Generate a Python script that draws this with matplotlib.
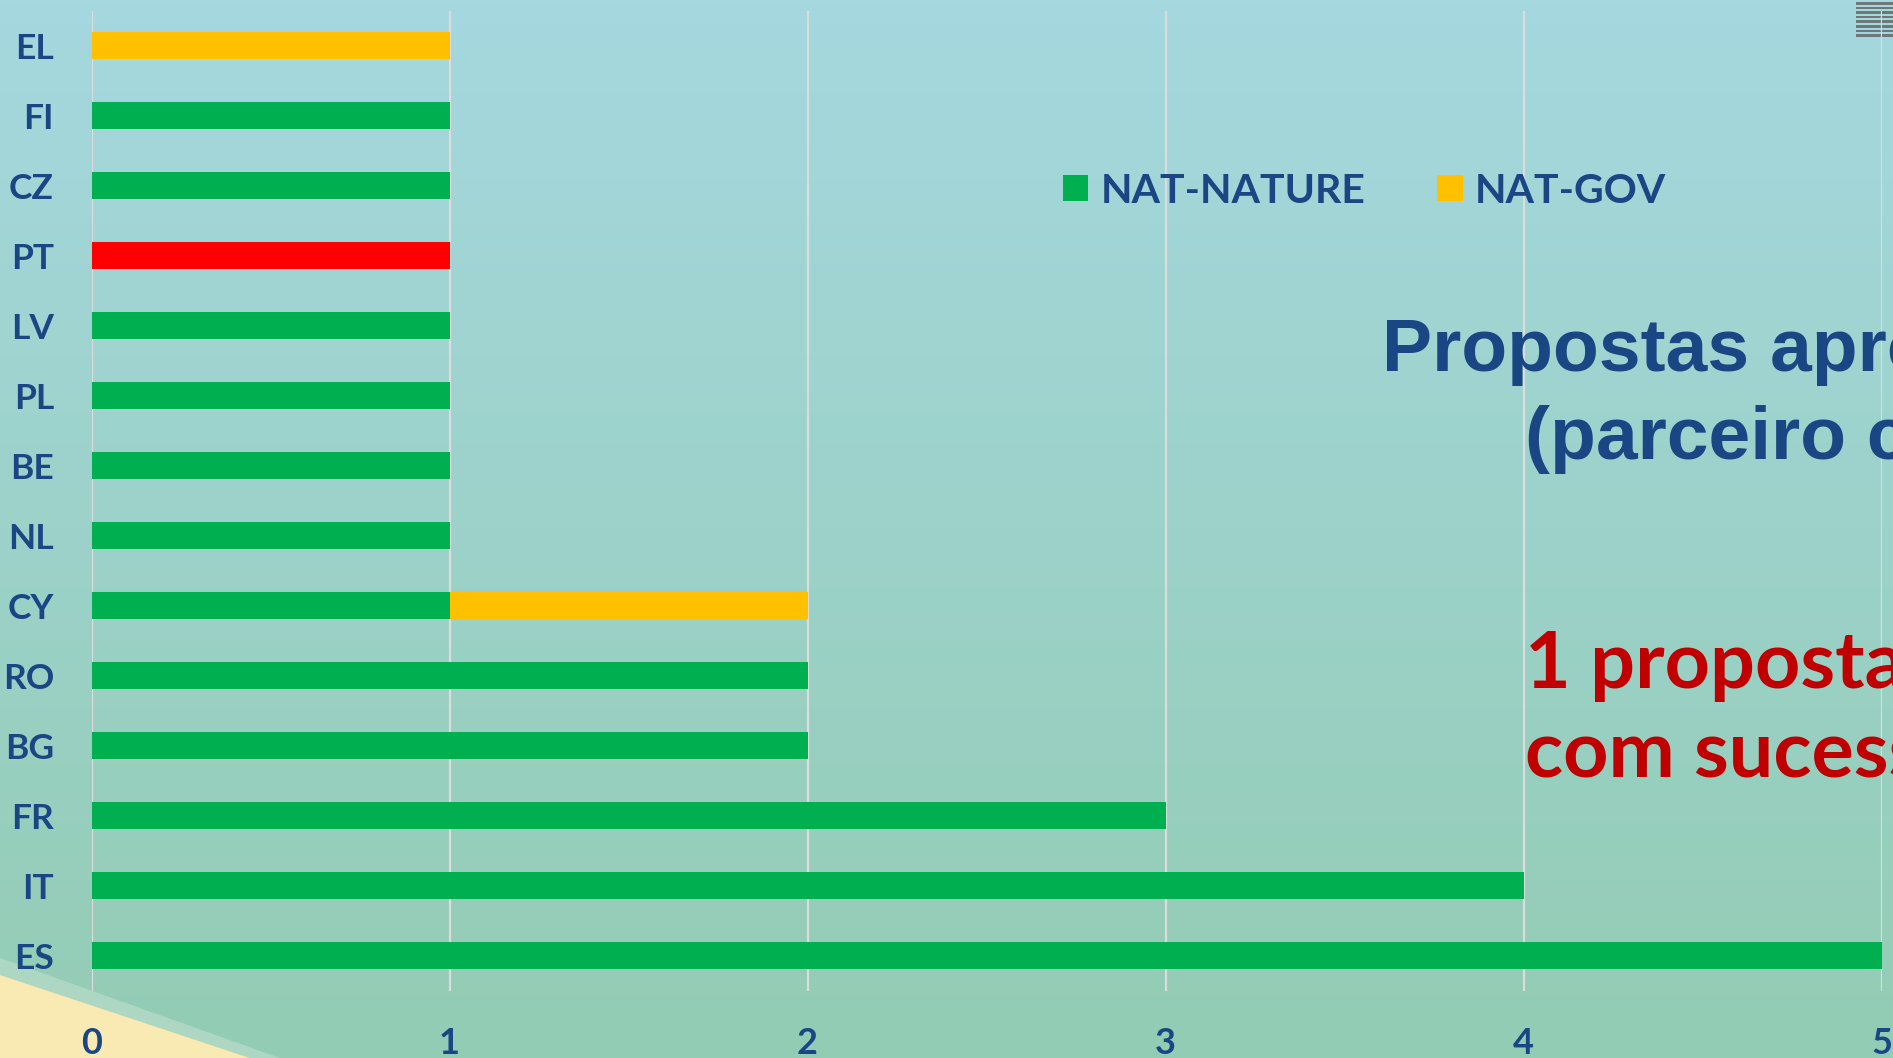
import numpy as np
import matplotlib
matplotlib.use("Agg")
import matplotlib.pyplot as plt
from matplotlib.patches import Patch, Polygon, Rectangle

# ---- data (top to bottom as shown) ----
countries = ["EL", "FI", "CZ", "PT", "LV", "PL", "BE", "NL", "CY", "RO", "BG", "FR", "IT", "ES"]
nat_nature = [0, 1, 1, 1, 1, 1, 1, 1, 1, 2, 2, 3, 4, 5]
nat_gov = [1, 0, 0, 0, 0, 0, 0, 0, 1, 0, 0, 0, 0, 0]
highlight = "PT"
series_labels = ["NAT-NATURE", "NAT-GOV"]
x_ticks = [0, 1, 2, 3, 4, 5]
title_lines = ["Propostas aprovadas", "(parceiro coordenador)"]
note_lines = ["1 proposta", "com sucesso"]

GREEN = "#00b050"
YELLOW = "#ffc000"
RED = "#ff0000"
BLUE_TXT = "#1b4684"
DARK_RED = "#c00000"

W, H = 1893, 1058
fig = plt.figure(figsize=(W / 100, H / 100), dpi=100)

# background gradient
bg = fig.add_axes([0, 0, 1, 1], zorder=-10)
top = np.array([0xa5, 0xd8, 0xdf]) / 255
bot = np.array([0x93, 0xcc, 0xb4]) / 255
t = np.linspace(0, 1, 256)[:, None]
grad = top[None, :] * (1 - t) + bot[None, :] * t
bg.imshow(grad[:, None, :].repeat(2, axis=1), aspect="auto", extent=[0, 1, 0, 1], origin="upper")
# yellow corner triangle with soft edge
bg.add_patch(Polygon([[0, 1 - 958 / H], [0, 1 - 975 / H], [250 / W, 0], [280 / W, 0]], closed=True,
                     facecolor="#b9ddc9", edgecolor="none", alpha=0.7))
bg.add_patch(Polygon([[0, 0], [0, 1 - 975 / H], [250 / W, 0]], closed=True,
                     facecolor="#f9eab3", edgecolor="none"))
# grey stripes icon top-right
for i in range(8):
    y0 = 1 - (2 + i * 4.6) / H
    bg.add_patch(Rectangle((1856 / W, y0 - 2.5 / H), 40 / W, 2.5 / H, facecolor="#6f7778",
                           edgecolor="none"))
bg.set_xlim(0, 1)
bg.set_ylim(0, 1)
bg.axis("off")

# main chart axes
ax = fig.add_axes([91.5 / W, 1 - 990.7 / H, (1881.5 - 91.5) / W, (990.7 - 10.7) / H])
ax.set_facecolor("none")
n = len(countries)
ypos = np.arange(n)
colors_nat = [RED if c == highlight else GREEN for c in countries]
bh = 0.39
ax.barh(ypos, nat_nature, height=bh, color=colors_nat, zorder=3)
ax.barh(ypos, nat_gov, left=nat_nature, height=bh, color=YELLOW, zorder=3)
ax.set_ylim(n - 0.5, -0.5)
ax.set_xlim(0, 5)
ax.set_xticks(x_ticks)
ax.set_xticklabels([str(v) for v in x_ticks])
ax.set_yticks(ypos)
ax.set_yticklabels(countries)
ax.grid(axis="x", color="#dcdcdc", linewidth=1.6, zorder=1)
ax.grid(axis="y", visible=False)
for s in ax.spines.values():
    s.set_visible(False)
ax.tick_params(axis="both", length=0)
ax.tick_params(axis="x", pad=26)
ax.tick_params(axis="y", pad=27)
for lab in ax.get_xticklabels():
    lab.set_fontfamily("Lato")
    lab.set_fontweight("bold")
    lab.set_color(BLUE_TXT)
    lab.set_fontsize(26)
for lab in ax.get_yticklabels():
    lab.set_fontfamily("Lato")
    lab.set_fontweight("bold")
    lab.set_color(BLUE_TXT)
    lab.set_fontsize(25.5)

# legend
handles = [Patch(facecolor=GREEN, edgecolor="none"), Patch(facecolor=YELLOW, edgecolor="none")]
leg = fig.legend(handles, series_labels, loc="center left", bbox_to_anchor=(1063 / W, 1 - 191 / H),
                 ncol=2, frameon=False, handlelength=0.62, handleheight=0.62, handletextpad=0.3,
                 columnspacing=1.75, borderpad=0, borderaxespad=0,
                 prop={"family": "Lato", "weight": "bold", "size": 29.5})
for tx in leg.get_texts():
    tx.set_color(BLUE_TXT)

# title text (partly off-canvas like the reference)
fig.text(1382 / W, 1 - 371 / H, title_lines[0], family="Liberation Sans", weight="bold",
         fontsize=54, color=BLUE_TXT, ha="left", va="baseline")
fig.text(1525 / W, 1 - 459 / H, title_lines[1], family="Liberation Sans", weight="bold",
         fontsize=54, color=BLUE_TXT, ha="left", va="baseline")
fig.text(1525 / W, 1 - 688 / H, note_lines[0], family="Lato", weight="bold",
         fontsize=57, color=DARK_RED, ha="left", va="baseline")
fig.text(1525 / W, 1 - 778 / H, note_lines[1], family="Lato", weight="bold",
         fontsize=57, color=DARK_RED, ha="left", va="baseline")

fig.savefig("out.png", dpi=100)
